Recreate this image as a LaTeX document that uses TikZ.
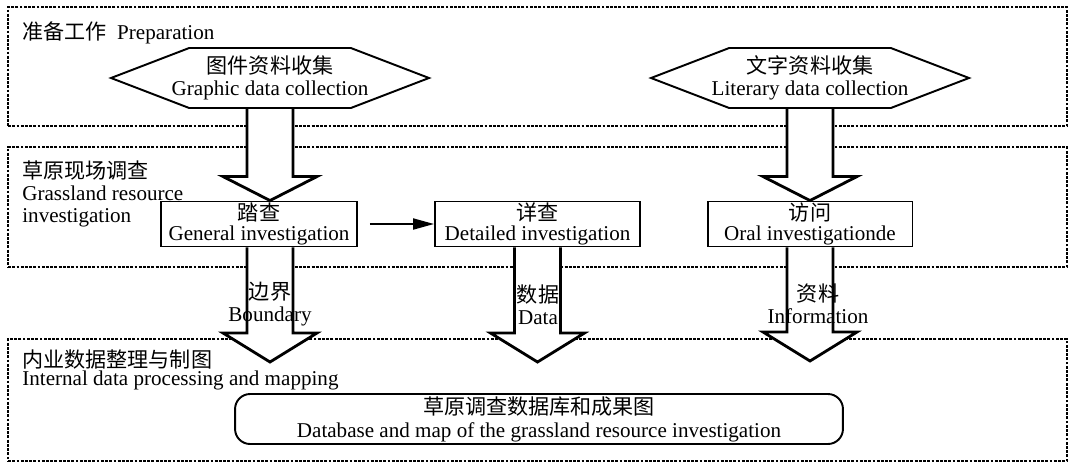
\documentclass[tikz,border=0pt]{standalone}
\usepackage{fontspec}
\setmainfont{Liberation Serif}
\newfontfamily\cjk{Noto Sans CJK SC}
\usetikzlibrary{arrows.meta,calc,positioning,shapes.symbols}
\pgfdeclarelayer{frames}
\pgfdeclarelayer{arrows}
\pgfsetlayers{frames,arrows,main}
\newcommand{\zh}[1]{{\cjk #1}}
% 空心粗箭头：#1 箭头长度, #2 起点, #3 箭尖
\newcommand{\blockarrow}[3][24]{%
  \draw[bigarrow] ($(#2)+(-23,0)$) -- ($(#3)+(-23,-#1)$) -- ($(#3)+(-47,-#1)$) -- (#3)
    -- ($(#3)+(47,-#1)$) -- ($(#3)+(23,-#1)$) -- ($(#2)+(23,0)$);}

\begin{document}
\begin{tikzpicture}[>=Stealth,x=0.02cm,y=-0.02cm,
  panel/.style={draw,line width=0.8pt,dash pattern=on 1.6pt off 0.8pt,minimum width=21.18cm},
  txt/.style={font=\fontsize{12}{12.5}\selectfont,align=center,inner sep=0pt},
  hexbox/.style={txt,draw,line width=1.1pt,shape=signal,signal to=west and east,
    signal pointer angle=42,inner xsep=-0.35cm,minimum height=1.2cm},
  stage/.style={txt,draw,line width=1.1pt,minimum height=0.9cm,
    font=\fontsize{12}{11.3}\selectfont},
  bigarrow/.style={line width=1.6pt,fill=white,line join=miter}]
  \useasboundingbox (0,0) rectangle (1070,464);
  % 三个阶段
  \begin{pgfonlayer}{frames}
    \node[panel,minimum height=2.38cm] (prep) at (537.5,66.5) {};
    \node[panel,minimum height=2.4cm] (field) at (537.5,207) {};
    \node[panel,minimum height=2.44cm] (office) at (537.5,400) {};
  \end{pgfonlayer}
  \node[txt,anchor=west] (preplbl) at (22,33) {\zh{准备工作}\ \ Preparation};
  \node[txt,anchor=north west,align=left,font=\fontsize{12}{12.7}\selectfont]
    (fieldlbl) at (22,160) {\zh{草原现场调查}\\Grassland resource\\investigation};
  \node[txt,anchor=north west,align=left,font=\fontsize{12}{10.7}\selectfont]
    (officelbl) at (22,349) {\zh{内业数据整理与制图}\\Internal data processing and mapping};
  % 资料收集
  \node[hexbox] (graphic) at (270,78) {\zh{图件资料收集}\\Graphic data collection};
  \node[hexbox] (literary) at (810,78) {\zh{文字资料收集}\\Literary data collection};
  % 野外调查
  \node[stage,minimum width=3.92cm] (general) at (259,224) {\zh{踏查}\\General investigation};
  \node[stage,minimum width=4.1cm] (detailed) at (537.5,224) {\zh{详查}\\Detailed investigation};
  \node[stage,minimum width=4.1cm] (oral) at (810,224) {\zh{访问}\\Oral investigationde};
  \draw[-{Triangle[length=0.42cm,width=0.22cm]},line width=1.1pt,shorten <=0.24cm]
    (general) -- (detailed);
  % 成果
  \node[txt,draw,line width=1.1pt,rounded corners=0.3cm,minimum width=12.16cm,
        minimum height=1cm,font=\fontsize{12}{13}\selectfont]
        (result) at (539,419) {\zh{草原调查数据库和成果图}\\Database and map of the grassland resource investigation};
  % 粗箭头
  \coordinate (in1) at (graphic.south |- general.north);
  \coordinate (in2) at (literary.south |- oral.north);
  \coordinate (out1) at (graphic.south |- general.south);
  \coordinate (out2) at (detailed.south);
  \coordinate (out3) at (literary.south |- oral.south);
  \coordinate (tip1) at (graphic.south |- 0,362);
  \coordinate (tip2) at (detailed.south |- 0,362);
  \coordinate (tip3) at (literary.south |- 0,361);
  \begin{pgfonlayer}{arrows}
    \blockarrow{graphic.south}{in1}
    \blockarrow{literary.south}{in2}
    \blockarrow[29]{out1}{tip1}
    \blockarrow[29]{out2}{tip2}
    \blockarrow[29]{out3}{tip3}
  \end{pgfonlayer}
  \node[txt,font=\fontsize{12}{12.5}\selectfont] (bound) at (270,304) {\zh{边界}\\Boundary};
  \node[txt] (data) at (538,305) {\zh{数据}\\Data};
  \node[txt] (info) at (818,304) {\zh{资料}\\Information};
\end{tikzpicture}
\end{document}
